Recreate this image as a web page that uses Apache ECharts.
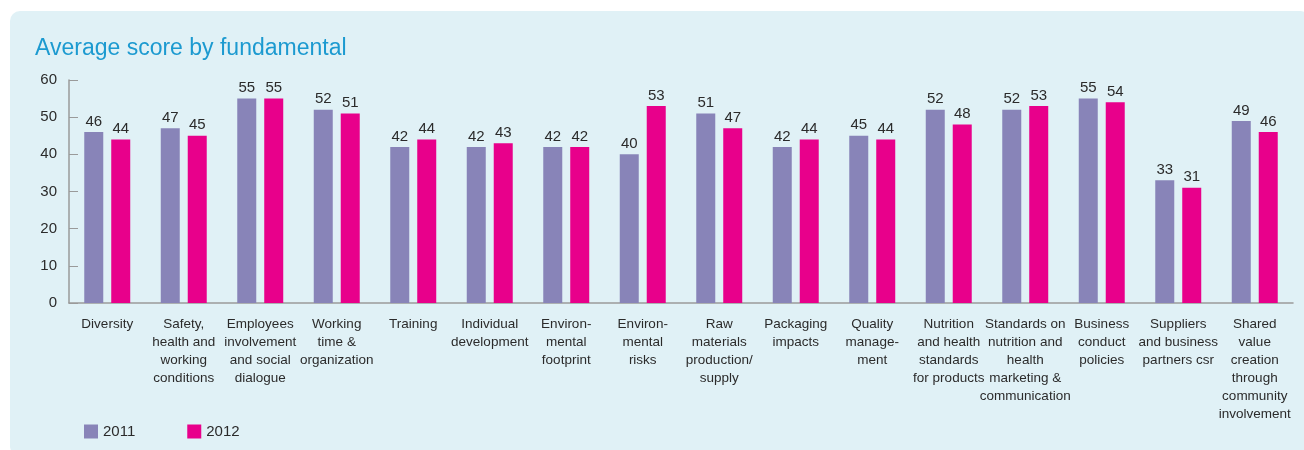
<!DOCTYPE html>
<html><head><meta charset="utf-8">
<script src="https://cdn.jsdelivr.net/npm/echarts@6/dist/echarts.min.js"></script>
<style>html,body{margin:0;padding:0;background:#fff}#c{width:1304px;height:450px}</style>
</head><body><div id="c"></div>
<script>
const categories = ["Diversity","Safety,\nhealth and\nworking\nconditions","Employees\ninvolvement\nand social\ndialogue","Working\ntime &\norganization","Training","Individual\ndevelopment","Environ-\nmental\nfootprint","Environ-\nmental\nrisks","Raw\nmaterials\nproduction/\nsupply","Packaging\nimpacts","Quality\nmanage-\nment","Nutrition\nand health\nstandards\nfor products","Standards on\nnutrition and\nhealth\nmarketing &\ncommunication","Business\nconduct\npolicies","Suppliers\nand business\npartners csr","Shared\nvalue\ncreation\nthrough\ncommunity\ninvolvement"];
const values2011 = [46,47,55,52,42,42,42,40,51,42,45,52,52,55,33,49];
const values2012 = [44,45,55,51,44,43,42,53,47,44,44,48,53,54,31,46];
const yTicks = [0,10,20,30,40,50,60];

const chart = echarts.init(document.getElementById('c'));
const txt = '#2b2b2b';
const font = '"Liberation Sans", Arial, sans-serif';
chart.setOption({
  animation:false,
  graphic:[{type:'rect',z:-10,shape:{x:10,y:11,width:1300,height:445,r:10},style:{fill:'#e0f1f6'}}],
  title:{text:'Average score by fundamental',left:30,top:32,textStyle:{color:'#1c9ad0',fontSize:23,fontWeight:'normal',fontFamily:font}},
  legend:{left:79,top:419,itemWidth:14,itemHeight:14,itemGap:52,itemTextGap:7,icon:'rect',textStyle:{color:txt,fontSize:15,fontFamily:font},data:['2011','2012']},
  grid:{left:69,right:11,top:80,bottom:147,containLabel:false},
  xAxis:{type:'category',data:categories,
    axisLine:{lineStyle:{color:'#9a9a9a',width:1.5}},
    axisTick:{inside:true,length:5,lineStyle:{color:'#9a9a9a'}},
    axisLabel:{interval:0,color:txt,fontSize:13.5,lineHeight:18,fontFamily:font,margin:12}},
  yAxis:{type:'value',min:0,max:60,interval:10,
    splitLine:{show:false},
    axisLine:{show:true,lineStyle:{color:'#9a9a9a',width:1.5}},
    axisTick:{show:true,inside:true,length:9,lineStyle:{color:'#9a9a9a'}},
    axisLabel:{color:txt,fontSize:15,fontFamily:font,margin:12,formatter:v=>yTicks.includes(v)?String(v):''}},
  series:[
    {name:'2011',type:'bar',data:values2011,barWidth:19,barGap:'42%',itemStyle:{color:'#8884b8'},
      label:{show:true,position:'top',distance:3,color:txt,fontSize:15,fontFamily:font}},
    {name:'2012',type:'bar',data:values2012,barWidth:19,itemStyle:{color:'#e8008b'},
      label:{show:true,position:'top',distance:3,color:txt,fontSize:15,fontFamily:font}}
  ]
});
</script></body></html>
